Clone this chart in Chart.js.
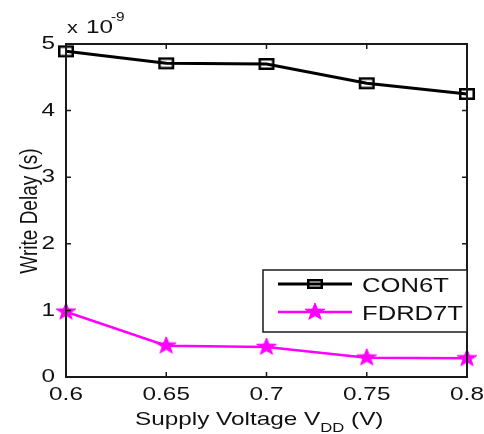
<!DOCTYPE html>
<html>
<head>
<meta charset="utf-8">
<script src="https://cdn.jsdelivr.net/npm/chart.js@4.4.0/dist/chart.umd.min.js"></script>
<style>
html,body{margin:0;padding:0;background:#fff;}
#wrap{width:484px;height:434px;position:relative;}
</style>
</head>
<body>
<div id="wrap"><canvas id="c" width="484" height="434"></canvas></div>
<script>
// ---- data ----
const voltages = [0.6, 0.65, 0.7, 0.75, 0.8];
const con6t = [4.89, 4.71, 4.70, 4.41, 4.25];
const fdrd7t = [0.98, 0.47, 0.45, 0.29, 0.28];
const xTicks = [0.6, 0.65, 0.7, 0.75, 0.8];
const xTickLabels = ['0.6', '0.65', '0.7', '0.75', '0.8'];
const yTicks = [0, 1, 2, 3, 4, 5];
const yTickLabels = ['0', '1', '2', '3', '4', '5'];
const seriesNames = ['CON6T', 'FDRD7T'];

const SX = 1.28; // horizontal text stretch seen in the reference
const FONT = '"Liberation Sans", Arial, sans-serif';
const TXT = '#111';

function makeSquare(w, h, lw) {
  const c = document.createElement('canvas');
  c.width = w + 2; c.height = h + 2;
  const g = c.getContext('2d');
  g.strokeStyle = '#000'; g.lineWidth = lw;
  g.strokeRect(1 + lw / 2, 1 + lw / 2, w - lw, h - lw);
  return c;
}
function makeStar(w, h, color) {
  const c = document.createElement('canvas');
  c.width = w; c.height = h;
  const g = c.getContext('2d');
  const R = 9, r = 3.6, kx = 1.17;
  g.translate(w / 2, h / 2);
  g.beginPath();
  for (let i = 0; i < 10; i++) {
    const rad = (i % 2 === 0) ? R : r;
    const a = -Math.PI / 2 + i * Math.PI / 5;
    const px = Math.cos(a) * rad * kx, py = Math.sin(a) * rad;
    if (i === 0) g.moveTo(px, py); else g.lineTo(px, py);
  }
  g.closePath();
  g.fillStyle = color; g.fill();
  g.strokeStyle = color; g.lineWidth = 1; g.stroke();
  return c;
}
const sqPlot = makeSquare(16, 12, 2.5);
const sqLeg = makeSquare(16, 10, 2.5);
const starImg = makeStar(24, 20, '#ff00ff');

function stretchText(ctx, text, x, y, align, font, baseline) {
  ctx.save();
  ctx.translate(x, y);
  ctx.scale(SX, 1);
  ctx.font = font;
  ctx.textAlign = align;
  ctx.textBaseline = baseline || 'alphabetic';
  ctx.fillStyle = TXT;
  ctx.fillText(text, 0, 0);
  ctx.restore();
}

const decor = {
  id: 'decor',
  afterDatasetsDraw(chart) {
    const ctx = chart.ctx;
    const a = chart.chartArea;
    const xs = chart.scales.x, ys = chart.scales.y;
    ctx.save();
    // axes box
    ctx.strokeStyle = '#1a1a1a';
    ctx.lineWidth = 2;
    ctx.strokeRect(a.left, a.top, a.right - a.left, a.bottom - a.top);
    // inward ticks
    ctx.lineWidth = 1.5;
    ctx.beginPath();
    xTicks.forEach(v => {
      const px = xs.getPixelForValue(v);
      ctx.moveTo(px, a.bottom); ctx.lineTo(px, a.bottom - 5);
      ctx.moveTo(px, a.top); ctx.lineTo(px, a.top + 5);
    });
    yTicks.forEach(v => {
      const py = ys.getPixelForValue(v);
      ctx.moveTo(a.left, py); ctx.lineTo(a.left + 5, py);
      ctx.moveTo(a.right, py); ctx.lineTo(a.right - 5, py);
    });
    ctx.stroke();
    // tick labels
    const tf = '19px ' + FONT;
    xTicks.forEach((v, i) => {
      stretchText(ctx, xTickLabels[i], xs.getPixelForValue(v), a.bottom + 23, 'center', tf);
    });
    yTicks.forEach((v, i) => {
      stretchText(ctx, yTickLabels[i], a.left - 11, ys.getPixelForValue(v), 'right', tf, 'middle');
    });
    // exponent label
    stretchText(ctx, 'x', 67, 33, 'left', '17px ' + FONT);
    stretchText(ctx, '10', 86, 33, 'left', '19px ' + FONT);
    stretchText(ctx, '-9', 111, 21, 'left', '12px ' + FONT);
    // x title with subscript
    const t1 = 'Supply Voltage V', t2 = 'DD', t3 = ' (V)';
    ctx.font = '19px ' + FONT;
    const w1 = ctx.measureText(t1).width * SX;
    const w3 = ctx.measureText(t3).width * SX;
    ctx.font = '13px ' + FONT;
    const w2 = ctx.measureText(t2).width * SX;
    const total = w1 + w2 + w3;
    let sx0 = 135;
    stretchText(ctx, t1, sx0, 425, 'left', '19px ' + FONT);
    stretchText(ctx, t2, sx0 + w1, 432, 'left', '13px ' + FONT);
    stretchText(ctx, t3, sx0 + w1 + w2, 425, 'left', '19px ' + FONT);
    // y title rotated
    ctx.save();
    ctx.translate(37, 211);
    ctx.rotate(-Math.PI / 2);
    ctx.scale(1, SX);
    ctx.font = '19px ' + FONT;
    ctx.textAlign = 'center';
    ctx.textBaseline = 'alphabetic';
    ctx.fillStyle = TXT;
    ctx.fillText('Write Delay (s)', 0, 0);
    ctx.restore();
    // legend
    const L = { x: 263, y: 270, w: 204, h: 62 };
    ctx.fillStyle = '#fff';
    ctx.fillRect(L.x, L.y, L.w, L.h);
    ctx.strokeStyle = '#1a1a1a';
    ctx.lineWidth = 1.5;
    ctx.strokeRect(L.x, L.y, L.w, L.h);
    const rows = [284, 312];
    const colors = ['#000', '#ff00ff'];
    const widths = [3, 2.5];
    rows.forEach((ry, i) => {
      ctx.strokeStyle = colors[i];
      ctx.lineWidth = widths[i];
      ctx.beginPath();
      ctx.moveTo(278, ry); ctx.lineTo(352, ry);
      ctx.stroke();
      const img = i === 0 ? sqLeg : starImg;
      ctx.drawImage(img, 315 - img.width / 2, ry - img.height / 2);
      stretchText(ctx, seriesNames[i], 362, ry + 8, 'left', '20px ' + FONT);
    });
    ctx.restore();
  }
};

const fixScale = s => { s.width = 0; s.height = 0; };

new Chart(document.getElementById('c'), {
  type: 'line',
  data: {
    datasets: [
      {
        label: seriesNames[0],
        data: voltages.map((v, i) => ({ x: v, y: con6t[i] })),
        borderColor: '#000',
        borderWidth: 3,
        pointStyle: sqPlot,
        pointRadius: 8,
        tension: 0,
        clip: false
      },
      {
        label: seriesNames[1],
        data: voltages.map((v, i) => ({ x: v, y: fdrd7t[i] })),
        borderColor: '#ff00ff',
        borderWidth: 2.5,
        pointStyle: starImg,
        pointRadius: 8,
        tension: 0,
        clip: false
      }
    ]
  },
  options: {
    responsive: false,
    animation: false,
    events: [],
    layout: { padding: { left: 66, top: 44, right: 17, bottom: 57 } },
    plugins: { legend: { display: false }, tooltip: { enabled: false }, title: { display: false } },
    scales: {
      x: {
        type: 'linear', min: 0.6, max: 0.8,
        ticks: { display: false }, grid: { display: false }, border: { display: false },
        afterFit: fixScale
      },
      y: {
        type: 'linear', min: 0, max: 5,
        ticks: { display: false }, grid: { display: false }, border: { display: false },
        afterFit: fixScale
      }
    }
  },
  plugins: [decor]
});
</script>
</body>
</html>
